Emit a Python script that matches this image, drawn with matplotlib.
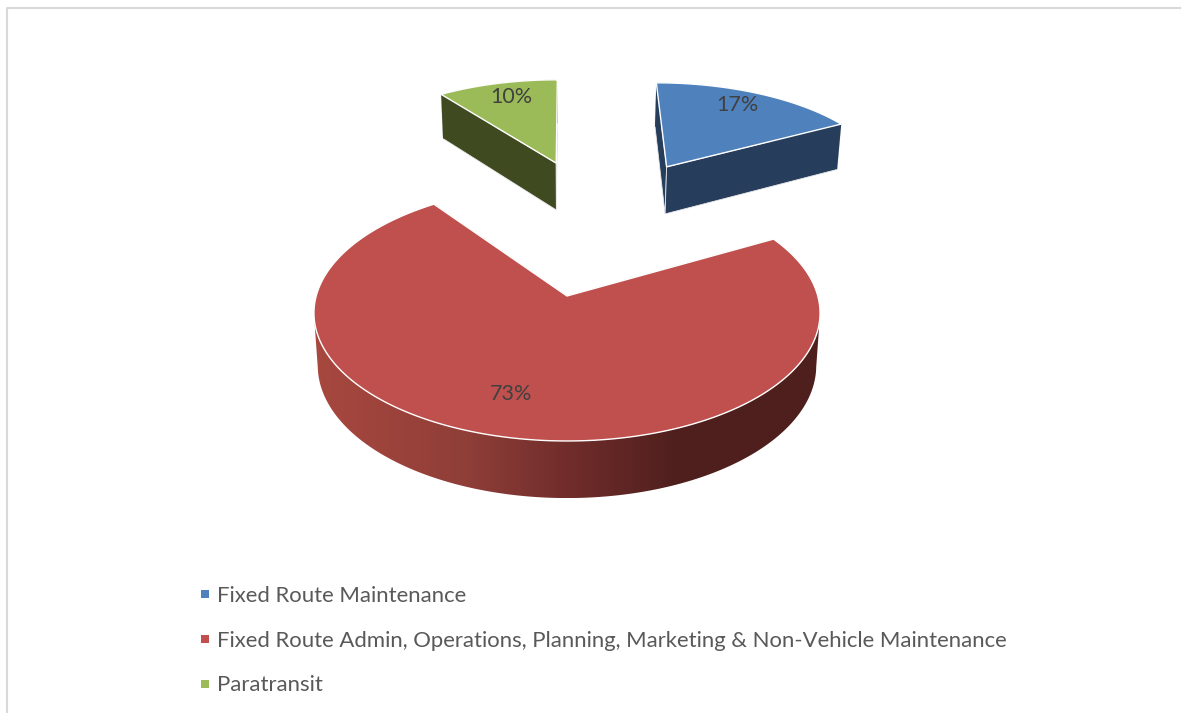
import numpy as np
import matplotlib
matplotlib.use("Agg")
import matplotlib.pyplot as plt
from matplotlib.colors import LinearSegmentedColormap
from matplotlib.patches import Polygon, Rectangle

plt.rcParams['font.family'] = ['Lato', 'DejaVu Sans']

categories = ["Fixed Route Maintenance",
              "Fixed Route Admin, Operations, Planning, Marketing & Non-Vehicle Maintenance",
              "Paratransit"]
values = [17, 73, 10]
top_colors = ["#4F81BD", "#C0504D", "#9BBB59"]
wall_colors = ["#263D5C", "#4F1F1D", "#3F4A20"]

# how far each slice is pulled out of the pie, in disk units
explode = [(0.46, -1.19), (0, 0), (-0.05, -1.23)]
label_pos = [(737, 105), (511, 394), (511, 97)]
legend_y = [601.5, 647, 691]
marker_y = [594, 639, 684]

# projection of the pie disk onto the page, numbers in pixels
cx, cy = 567, 296
sx, sy, k = 250.8, 125.7, 0.133
depth = 51.9
shrink = 0.985

red_wall = LinearSegmentedColormap.from_list(
    "red_wall", [(0, "#A8483F"), (0.3, "#8F3E38"), (0.5, "#712D2B"), (0.72, "#4E1F1D"), (1, "#4E1F1D")])


def top_xy(u, v):
    w = 1 - k * v
    return cx + sx * u / w, cy + sy * v / w


def bottom_xy(u, v):
    x, y = top_xy(u, v)
    d = depth / (1 - k * v) ** 0.667
    return cx + (x - cx) * shrink, y + d


fig = plt.figure(figsize=(11.82, 7.13), dpi=100)
ax = fig.add_axes([0, 0, 1, 1])
ax.axis("off")

cum = np.cumsum([0] + values) / sum(values) * 2 * np.pi

for i in range(len(values)):
    th = np.linspace(cum[i], cum[i + 1], 300)
    eu, ev = explode[i]
    u = eu + np.sin(th)
    v = ev - np.cos(th)
    tx, ty = top_xy(u, v)
    bx, by = bottom_xy(u, v)
    x0, y0 = top_xy(eu, ev)
    bx0, by0 = bottom_xy(eu, ev)

    # radial walls, from the slice centre out to both ends of the arc
    for j in (0, -1):
        ax.add_patch(Polygon([(x0, y0), (tx[j], ty[j]), (bx[j], by[j]), (bx0, by0)],
                             fc=wall_colors[i], ec="#E8E8E8", lw=0.6, zorder=2 + i))

    # outer wall, the big slice only shows its front part and gets a left to right shade
    front = np.cos(th) < -k if i == 1 else np.ones(len(th), dtype=bool)
    wall = Polygon(np.column_stack([np.r_[tx[front], bx[front][::-1]], np.r_[ty[front], by[front][::-1]]]),
                   fc=wall_colors[i], ec="none", zorder=2 + i)
    ax.add_patch(wall)
    if i == 1:
        wall.set_facecolor("none")
        im = ax.imshow(np.linspace(0, 1, 256)[None, :], cmap=red_wall, aspect="auto",
                       extent=(tx.min(), tx.max(), by.max(), ty.min()), zorder=2 + i)
        im.set_clip_path(wall)

    # top face with its thin light rim
    ax.add_patch(Polygon(np.column_stack([np.r_[x0, tx], np.r_[y0, ty]]),
                         fc=top_colors[i], ec="white", lw=1.0, zorder=6 + i))

    ax.text(label_pos[i][0], label_pos[i][1], f"{values[i]}%", ha="center", va="center",
            fontsize=15.5, color="#404040", zorder=12)

    # legend
    ax.add_patch(Rectangle((201, marker_y[i] - 4), 8, 8, fc=top_colors[i], ec="none"))
    ax.text(217, legend_y[i], categories[i], ha="left", va="baseline", fontsize=15.98, color="#595959")

# the grey chart frame
ax.plot([7, 7, 1180], [713, 8, 8], color="#D9D9D9", lw=1.5)

ax.set_xlim(0, 1182)
ax.set_ylim(713, 0)

fig.savefig("out.png", dpi=100)
